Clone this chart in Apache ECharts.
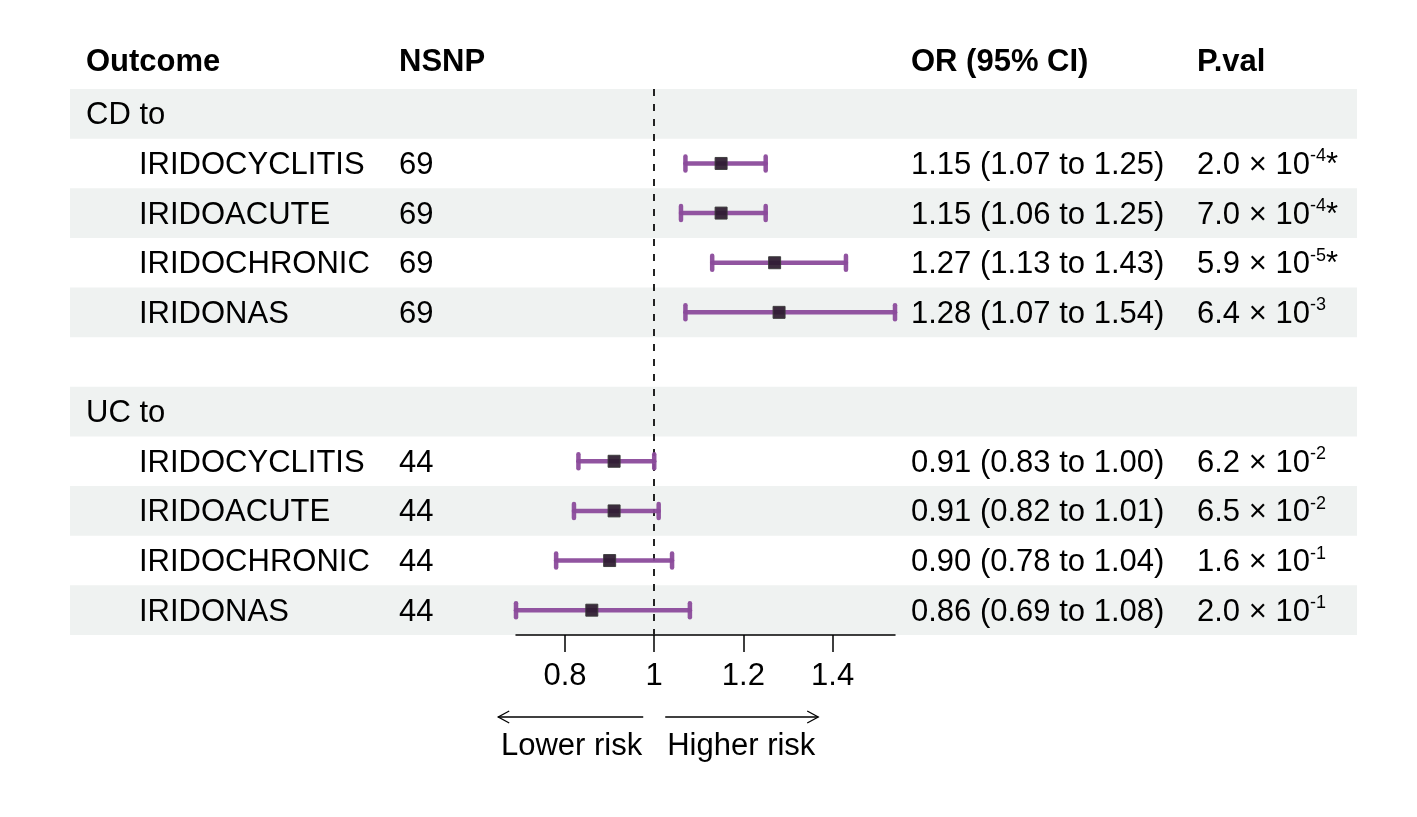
<!DOCTYPE html>
<html><head><meta charset="utf-8">
<script src="https://cdn.jsdelivr.net/npm/echarts@6/dist/echarts.min.js"></script>
<style>html,body{margin:0;padding:0;background:#fff}#c{width:1417px;height:817px}</style>
</head><body><div id="c"></div>
<script>
const rows = ['CD to','IRIDOCYCLITIS','IRIDOACUTE','IRIDOCHRONIC','IRIDONAS','','UC to','IRIDOCYCLITIS','IRIDOACUTE','IRIDOCHRONIC','IRIDONAS'];
const isGroup = [true,false,false,false,false,false,true,false,false,false,false];
const shaded = [true,false,true,false,true,false,true,false,true,false,true];
const nsnp = ['','69','69','69','69','','','44','44','44','44'];
const orEst = [null,1.15,1.15,1.27,1.28,null,null,0.91,0.91,0.90,0.86];
const ciLow = [null,1.07,1.06,1.13,1.07,null,null,0.83,0.82,0.78,0.69];
const ciHigh = [null,1.25,1.25,1.43,1.54,null,null,1.00,1.01,1.04,1.08];
const orLabel = ['','1.15 (1.07 to 1.25)','1.15 (1.06 to 1.25)','1.27 (1.13 to 1.43)','1.28 (1.07 to 1.54)','','','0.91 (0.83 to 1.00)','0.91 (0.82 to 1.01)','0.90 (0.78 to 1.04)','0.86 (0.69 to 1.08)'];
const pMant = ['','2.0','7.0','5.9','6.4','','','6.2','6.5','1.6','2.0'];
const pExp = ['','-4','-4','-5','-3','','','-2','-2','-1','-1'];
const pStar = ['','*','*','*','','','','','','',''];
const headers = ['Outcome','NSNP','OR (95% CI)','P.val'];
const xTicks = [0.8, 1, 1.2, 1.4];
const xMin = 0.69, xMax = 1.54;
const refValue = 1;
const riskLabels = ['Lower risk','Higher risk'];

const FONT = "'Liberation Sans', Arial, Helvetica, sans-serif";
const FS = 31;
const col = {outcome: 86, indent: 139, nsnp: 399, or: 911, p: 1197};
const band = {x0: 70, x1: 1357};
const purple = '#8b4b9b';
const textDy = 2;

const chart = echarts.init(document.getElementById('c'), null, {renderer: 'canvas'});

const idx = rows.map((_, i) => String(i));

const option = {
  animation: false,
  backgroundColor: '#ffffff',
  grid: {left: 516, right: 1417 - 895, top: 89, height: 546, containLabel: false},
  xAxis: {
    type: 'value', min: xMin, max: xMax,
    axisLine: {show: true, lineStyle: {color: '#000', width: 1.5}},
    axisTick: {show: true, length: 17, inside: false, lineStyle: {color: '#000', width: 1.5}, customValues: xTicks},
    axisLabel: {show: true, customValues: xTicks, fontSize: FS, fontFamily: FONT, color: '#000', margin: 26,
      formatter: v => String(+v.toFixed(2))},
    splitLine: {show: false}
  },
  yAxis: {
    type: 'category', data: idx, inverse: true,
    axisLine: {show: false}, axisTick: {show: false}, axisLabel: {show: false}, splitLine: {show: false}
  },
  series: [
    {
      type: 'custom', name: 'bands', z: 0, silent: true,
      encode: {x: 0, y: 1},
      data: rows.map((_, i) => [xMin, i]),
      renderItem(params, api) {
        const i = api.value(1);
        if (!shaded[i]) return null;
        const c = api.coord([xMin, i]);
        const h = api.size([0, 1])[1];
        return {type: 'rect', shape: {x: band.x0, y: c[1] - h / 2, width: band.x1 - band.x0, height: h},
          style: {fill: '#eff2f1'}};
      }
    },
    {
      type: 'custom', name: 'text', z: 3, silent: true,
      encode: {x: 0, y: 1},
      data: rows.map((_, i) => [xMin, i]),
      renderItem(params, api) {
        const i = api.value(1);
        const y = api.coord([xMin, i])[1] + textDy;
        const base = {fontSize: FS, fontFamily: FONT, fill: '#000', verticalAlign: 'middle', align: 'left'};
        const ch = [];
        if (rows[i]) ch.push({type: 'text', x: isGroup[i] ? col.outcome : col.indent, y: y, style: Object.assign({text: rows[i]}, base)});
        if (nsnp[i]) ch.push({type: 'text', x: col.nsnp, y: y, style: Object.assign({text: nsnp[i]}, base)});
        if (orLabel[i]) ch.push({type: 'text', x: col.or, y: y, style: Object.assign({text: orLabel[i]}, base)});
        if (pMant[i]) ch.push({type: 'text', x: col.p, y: y, style: {
          text: '{m|' + pMant[i] + ' \u00d7 10}{s|' + pExp[i] + '}' + (pStar[i] ? '{m|' + pStar[i] + '}' : ''),
          fontFamily: FONT, verticalAlign: 'middle', align: 'left',
          rich: {
            m: {fontSize: FS, fontFamily: FONT, fill: '#000', color: '#000', lineHeight: 36},
            s: {fontSize: 18, fontFamily: FONT, fill: '#000', color: '#000', verticalAlign: 'top', lineHeight: 22}
          }
        }});
        return {type: 'group', children: ch};
      }
    },
    {
      type: 'custom', name: 'OR', z: 4, silent: true,
      encode: {x: [0, 2, 3], y: 1},
      data: rows.map((_, i) => orEst[i] == null ? null : [orEst[i], i, ciLow[i], ciHigh[i]]).filter(d => d),
      renderItem(params, api) {
        const i = api.value(1);
        const p = api.coord([api.value(0), i]);
        const lo = api.coord([api.value(2), i]);
        const hi = api.coord([api.value(3), i]);
        const capH = 7, sq = 12;
        const ls = {stroke: purple, lineWidth: 4.5, lineCap: 'round', opacity: 0.95};
        return {type: 'group', children: [
          {type: 'line', shape: {x1: lo[0], y1: p[1], x2: hi[0], y2: p[1]}, style: ls},
          {type: 'line', shape: {x1: lo[0], y1: p[1] - capH, x2: lo[0], y2: p[1] + capH}, style: ls},
          {type: 'line', shape: {x1: hi[0], y1: p[1] - capH, x2: hi[0], y2: p[1] + capH}, style: ls},
          {type: 'rect', shape: {x: p[0] - sq / 2, y: p[1] - sq / 2, width: sq, height: sq},
            style: {fill: '#2b1a2e', stroke: '#3a3a3a', lineWidth: 1, opacity: 0.92}}
        ]};
      },
      markLine: {
        silent: true, symbol: 'none', z: 2,
        label: {show: false},
        lineStyle: {type: [7, 8], color: '#222', width: 2},
        data: [{xAxis: refValue}]
      }
    }
  ]
};
chart.setOption(option);

// header and risk annotations
const headerX = [col.outcome, col.nsnp, col.or, col.p];
const refPx = chart.convertToPixel({xAxisIndex: 0}, refValue);
const arrowY = 717;
const lx0 = refPx - 11, lx1 = refPx - 156, rx0 = refPx + 11, rx1 = refPx + 164;
const aStyle = {stroke: '#000', lineWidth: 1.3, fill: null};
const graphics = headers.map((h, k) => ({
  type: 'text', x: headerX[k], y: 62,
  style: {text: h, fontSize: FS, fontWeight: 'bold', fontFamily: FONT, fill: '#000', verticalAlign: 'middle', align: 'left'}
}));
graphics.push(
  {type: 'line', shape: {x1: lx0, y1: arrowY, x2: lx1, y2: arrowY}, style: aStyle},
  {type: 'polyline', shape: {points: [[lx1 + 11, arrowY - 6], [lx1, arrowY], [lx1 + 11, arrowY + 6]]}, style: aStyle},
  {type: 'line', shape: {x1: rx0, y1: arrowY, x2: rx1, y2: arrowY}, style: aStyle},
  {type: 'polyline', shape: {points: [[rx1 - 11, arrowY - 6], [rx1, arrowY], [rx1 - 11, arrowY + 6]]}, style: aStyle},
  {type: 'text', x: refPx - 12, y: 746, style: {text: riskLabels[0], fontSize: FS, fontFamily: FONT, fill: '#000', align: 'right', verticalAlign: 'middle'}},
  {type: 'text', x: refPx + 13, y: 746, style: {text: riskLabels[1], fontSize: FS, fontFamily: FONT, fill: '#000', align: 'left', verticalAlign: 'middle'}}
);
chart.setOption({graphic: graphics});
</script>
</body></html>
